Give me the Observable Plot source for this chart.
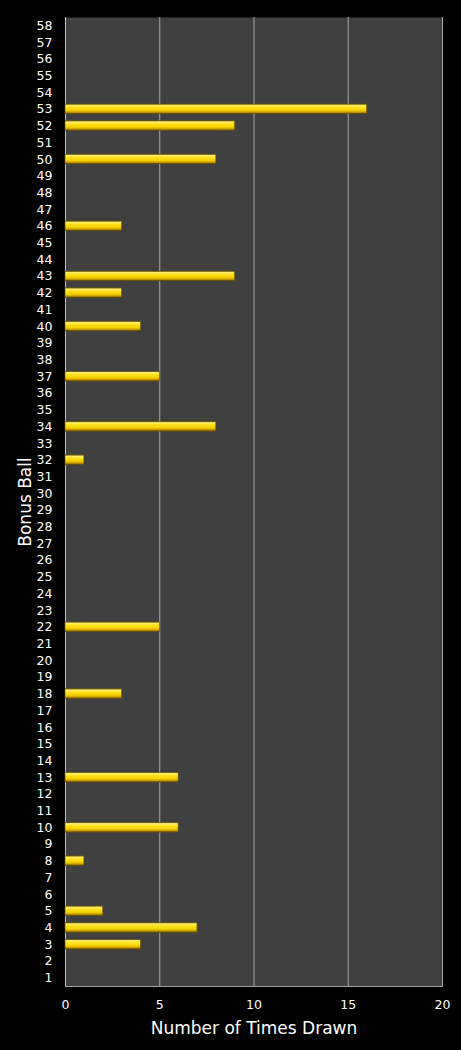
<!DOCTYPE html>
<html>
<head>
<meta charset="utf-8">
<script src="https://cdn.jsdelivr.net/npm/d3@7"></script>
<script src="https://cdn.jsdelivr.net/npm/@observablehq/plot@0.6"></script>
<style>
  html, body { margin: 0; padding: 0; background: #000; }
  #chart svg { display: block; }
</style>
</head>
<body>
<div id="chart"></div>
<script>
const balls = ["53","52","50","46","43","42","40","37","34","32","22","18","13","10","8","5","4","3"];
const timesDrawn = [16, 9, 8, 3, 9, 3, 4, 5, 8, 1, 5, 3, 6, 6, 1, 2, 7, 4];
const categories = Array.from({length: 58}, (_, i) => String(58 - i));
const xTicks = [0, 5, 10, 15, 20];
const gridTicks = [5, 10, 15, 20];

const data = balls.map((b, i) => ({ball: b, count: timesDrawn[i]}));

const plot = Plot.plot({
  width: 461,
  height: 1050,
  marginLeft: 65,
  marginRight: 19,
  marginTop: 17,
  marginBottom: 64,
  style: {background: "#000", color: "#fff", fontFamily: "DejaVu Sans, Verdana, sans-serif", fontSize: "12px"},
  x: {domain: [0, 20], ticks: xTicks, label: null},
  y: {domain: categories, paddingInner: 0.42, paddingOuter: 0.21, label: null},
  marks: [
    Plot.frame({fill: "#404040", stroke: "none"}),
    Plot.ruleX(gridTicks, {stroke: "#a8a8a8", strokeWidth: 1}),
    Plot.ruleX([0], {stroke: "#c0c0c0", strokeWidth: 1}),
    Plot.frame({anchor: "bottom", stroke: "#a0a0a0", strokeWidth: 1}),
    Plot.barX(data, {x: "count", y: "ball", fill: "url(#barGrad)", stroke: "#6b5500", strokeWidth: 0.6}),
    Plot.axisX({ticks: xTicks, tickSize: 0, tickPadding: 14, fill: "#fff", fontSize: 12.5, label: null}),
    Plot.axisY({tickSize: 0, tickPadding: 13, fill: "#fff", fontSize: 12.5, label: null}),
    Plot.text(["Number of Times Drawn"], {frameAnchor: "bottom", textAnchor: "middle", lineAnchor: "middle", dy: 42, fill: "#fff", fontSize: 17}),
    Plot.text(["Bonus Ball"], {frameAnchor: "left", textAnchor: "middle", lineAnchor: "middle", dx: -40, rotate: -90, fill: "#fff", fontSize: 17})
  ]
});

const svgNS = "http://www.w3.org/2000/svg";
const defs = document.createElementNS(svgNS, "defs");
defs.innerHTML = `
  <linearGradient id="barGrad" x1="0" y1="0" x2="0" y2="1">
    <stop offset="0" stop-color="#8a7000"/>
    <stop offset="0.12" stop-color="#fff07a"/>
    <stop offset="0.35" stop-color="#ffe21a"/>
    <stop offset="0.65" stop-color="#f7d000"/>
    <stop offset="0.85" stop-color="#c99a00"/>
    <stop offset="1" stop-color="#5a4500"/>
  </linearGradient>`;
plot.insertBefore(defs, plot.firstChild);
document.getElementById("chart").appendChild(plot);
</script>
</body>
</html>
